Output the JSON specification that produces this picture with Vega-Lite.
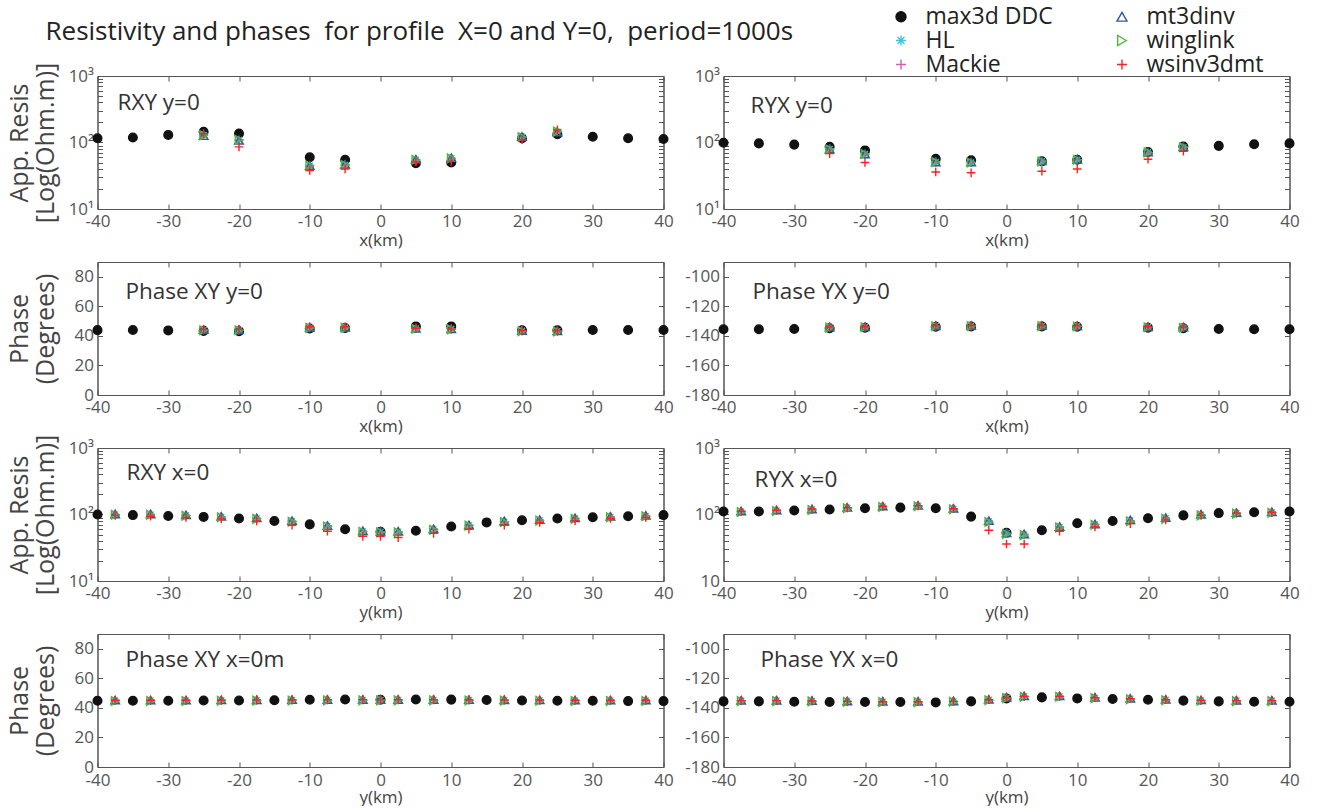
{
"$schema":"https://vega.github.io/schema/vega-lite/v6.json",
"background":"white",
"padding":{"left":6.5,"top":5,"right":0,"bottom":0},
"title":{"text":"Resistivity and phases\u00a0 for profile\u00a0 X=0 and Y=0,\u00a0 period=1000s","anchor":"start","frame":"group","dx":-52,"offset":-61,"baseline":"alphabetic","fontSize":26,"fontWeight":"normal","color":"#222","font":"Open Sans"},
"config":{
 "font":"Open Sans",
 "view":{"stroke":"#555","strokeWidth":1},
 "axis":{"grid":false,"domainColor":"#555","domainWidth":1,"tickColor":"#555","tickWidth":1,"tickSize":-5,"labelFont":"Open Sans","labelFontSize":17,"labelColor":"#555","labelFlush":false,"labelOverlap":false,"titleFont":"Open Sans","titleFontSize":17,"titleFontWeight":"normal","titleColor":"#444"},
 "axisX":{"labelPadding":9.5,"titlePadding":2.5},
 "axisY":{"labelPadding":9,"titlePadding":4.5,"minExtent":35,"maxExtent":35,"titleFontSize":25,"titleLineHeight":26},
 "title":{"font":"Open Sans","fontWeight":"normal","color":"#333"}
},
"datasets":{
"rxy_y":[
{"method":"max3d DDC","km":-40,"value":116},{"method":"max3d DDC","km":-35,"value":119},{"method":"max3d DDC","km":-30,"value":130},{"method":"max3d DDC","km":-25,"value":145},{"method":"max3d DDC","km":-20,"value":136},{"method":"max3d DDC","km":-10,"value":60},{"method":"max3d DDC","km":-5,"value":55},{"method":"max3d DDC","km":5,"value":49},{"method":"max3d DDC","km":10,"value":50},{"method":"max3d DDC","km":20,"value":116},{"method":"max3d DDC","km":25,"value":133},{"method":"max3d DDC","km":30,"value":122},{"method":"max3d DDC","km":35,"value":116},{"method":"max3d DDC","km":40,"value":113},
{"method":"HL","km":-25,"value":129},{"method":"HL","km":-20,"value":109},{"method":"HL","km":-10,"value":45},{"method":"HL","km":-5,"value":46},{"method":"HL","km":5,"value":55},{"method":"HL","km":10,"value":58},{"method":"HL","km":20,"value":121},{"method":"HL","km":25,"value":146},
{"method":"Mackie","km":-25,"value":128},{"method":"Mackie","km":-20,"value":108},{"method":"Mackie","km":-10,"value":44},{"method":"Mackie","km":-5,"value":46},{"method":"Mackie","km":5,"value":54},{"method":"Mackie","km":10,"value":57},{"method":"Mackie","km":20,"value":120},{"method":"Mackie","km":25,"value":145},
{"method":"mt3dinv","km":-25,"value":127},{"method":"mt3dinv","km":-20,"value":108},{"method":"mt3dinv","km":-10,"value":45},{"method":"mt3dinv","km":-5,"value":47},{"method":"mt3dinv","km":5,"value":56},{"method":"mt3dinv","km":10,"value":59},{"method":"mt3dinv","km":20,"value":123},{"method":"mt3dinv","km":25,"value":144},
{"method":"winglink","km":-25,"value":129},{"method":"winglink","km":-20,"value":110},{"method":"winglink","km":-10,"value":45},{"method":"winglink","km":-5,"value":46},{"method":"winglink","km":5,"value":55},{"method":"winglink","km":10,"value":58},{"method":"winglink","km":20,"value":121},{"method":"winglink","km":25,"value":146},
{"method":"wsinv3dmt","km":-25,"value":136},{"method":"wsinv3dmt","km":-20,"value":86},{"method":"wsinv3dmt","km":-10,"value":38},{"method":"wsinv3dmt","km":-5,"value":40},{"method":"wsinv3dmt","km":5,"value":51},{"method":"wsinv3dmt","km":10,"value":52},{"method":"wsinv3dmt","km":20,"value":110},{"method":"wsinv3dmt","km":25,"value":155}
],
"ryx_y":[
{"method":"max3d DDC","km":-40,"value":99},{"method":"max3d DDC","km":-35,"value":97},{"method":"max3d DDC","km":-30,"value":93},{"method":"max3d DDC","km":-25,"value":86},{"method":"max3d DDC","km":-20,"value":76},{"method":"max3d DDC","km":-10,"value":57},{"method":"max3d DDC","km":-5,"value":54},{"method":"max3d DDC","km":5,"value":52},{"method":"max3d DDC","km":10,"value":55},{"method":"max3d DDC","km":20,"value":72},{"method":"max3d DDC","km":25,"value":87},{"method":"max3d DDC","km":30,"value":89},{"method":"max3d DDC","km":35,"value":94},{"method":"max3d DDC","km":40,"value":97},
{"method":"HL","km":-25,"value":80},{"method":"HL","km":-20,"value":67},{"method":"HL","km":-10,"value":51},{"method":"HL","km":-5,"value":50},{"method":"HL","km":5,"value":52},{"method":"HL","km":10,"value":55},{"method":"HL","km":20,"value":71},{"method":"HL","km":25,"value":85},
{"method":"Mackie","km":-25,"value":79},{"method":"Mackie","km":-20,"value":66},{"method":"Mackie","km":-10,"value":50},{"method":"Mackie","km":-5,"value":50},{"method":"Mackie","km":5,"value":52},{"method":"Mackie","km":10,"value":55},{"method":"Mackie","km":20,"value":70},{"method":"Mackie","km":25,"value":84},
{"method":"mt3dinv","km":-25,"value":80},{"method":"mt3dinv","km":-20,"value":67},{"method":"mt3dinv","km":-10,"value":51},{"method":"mt3dinv","km":-5,"value":51},{"method":"mt3dinv","km":5,"value":53},{"method":"mt3dinv","km":10,"value":56},{"method":"mt3dinv","km":20,"value":72},{"method":"mt3dinv","km":25,"value":86},
{"method":"winglink","km":-25,"value":79},{"method":"winglink","km":-20,"value":67},{"method":"winglink","km":-10,"value":51},{"method":"winglink","km":-5,"value":50},{"method":"winglink","km":5,"value":52},{"method":"winglink","km":10,"value":55},{"method":"winglink","km":20,"value":71},{"method":"winglink","km":25,"value":85},
{"method":"wsinv3dmt","km":-25,"value":68},{"method":"wsinv3dmt","km":-20,"value":50},{"method":"wsinv3dmt","km":-10,"value":36},{"method":"wsinv3dmt","km":-5,"value":35},{"method":"wsinv3dmt","km":5,"value":37},{"method":"wsinv3dmt","km":10,"value":40},{"method":"wsinv3dmt","km":20,"value":56},{"method":"wsinv3dmt","km":25,"value":74}
],
"pxy_y":[
{"method":"max3d DDC","km":-40,"value":43.9},{"method":"max3d DDC","km":-35,"value":44},{"method":"max3d DDC","km":-30,"value":43.7},{"method":"max3d DDC","km":-25,"value":43.4},{"method":"max3d DDC","km":-20,"value":43.2},{"method":"max3d DDC","km":-10,"value":45},{"method":"max3d DDC","km":-5,"value":45.3},{"method":"max3d DDC","km":5,"value":46.4},{"method":"max3d DDC","km":10,"value":46.4},{"method":"max3d DDC","km":20,"value":43.8},{"method":"max3d DDC","km":25,"value":43.8},{"method":"max3d DDC","km":30,"value":44},{"method":"max3d DDC","km":35,"value":44},{"method":"max3d DDC","km":40,"value":44},
{"method":"HL","km":-25,"value":44},{"method":"HL","km":-20,"value":44},{"method":"HL","km":-10,"value":45.6},{"method":"HL","km":-5,"value":45.6},{"method":"HL","km":5,"value":45},{"method":"HL","km":10,"value":44.6},{"method":"HL","km":20,"value":43.4},{"method":"HL","km":25,"value":43.2},
{"method":"Mackie","km":-25,"value":44.1},{"method":"Mackie","km":-20,"value":44.1},{"method":"Mackie","km":-10,"value":45.5},{"method":"Mackie","km":-5,"value":45.6},{"method":"Mackie","km":5,"value":45.1},{"method":"Mackie","km":10,"value":44.7},{"method":"Mackie","km":20,"value":43.4},{"method":"Mackie","km":25,"value":43.3},
{"method":"mt3dinv","km":-25,"value":44.3},{"method":"mt3dinv","km":-20,"value":44.2},{"method":"mt3dinv","km":-10,"value":45.8},{"method":"mt3dinv","km":-5,"value":45.8},{"method":"mt3dinv","km":5,"value":45.2},{"method":"mt3dinv","km":10,"value":44.8},{"method":"mt3dinv","km":20,"value":43.6},{"method":"mt3dinv","km":25,"value":43.4},
{"method":"winglink","km":-25,"value":43.8},{"method":"winglink","km":-20,"value":43.8},{"method":"winglink","km":-10,"value":45.4},{"method":"winglink","km":-5,"value":45.4},{"method":"winglink","km":5,"value":44.8},{"method":"winglink","km":10,"value":44.4},{"method":"winglink","km":20,"value":43.2},{"method":"winglink","km":25,"value":43},
{"method":"wsinv3dmt","km":-25,"value":44.4},{"method":"wsinv3dmt","km":-20,"value":44.4},{"method":"wsinv3dmt","km":-10,"value":46.2},{"method":"wsinv3dmt","km":-5,"value":46.2},{"method":"wsinv3dmt","km":5,"value":45.2},{"method":"wsinv3dmt","km":10,"value":44.6},{"method":"wsinv3dmt","km":20,"value":43.6},{"method":"wsinv3dmt","km":25,"value":43.4}
],
"pyx_y":[
{"method":"max3d DDC","km":-40,"value":-135.5},{"method":"max3d DDC","km":-35,"value":-135.5},{"method":"max3d DDC","km":-30,"value":-135.3},{"method":"max3d DDC","km":-25,"value":-134.8},{"method":"max3d DDC","km":-20,"value":-134.5},{"method":"max3d DDC","km":-10,"value":-133.8},{"method":"max3d DDC","km":-5,"value":-133.6},{"method":"max3d DDC","km":5,"value":-133.6},{"method":"max3d DDC","km":10,"value":-133.8},{"method":"max3d DDC","km":20,"value":-134.5},{"method":"max3d DDC","km":25,"value":-134.8},{"method":"max3d DDC","km":30,"value":-135.3},{"method":"max3d DDC","km":35,"value":-135.5},{"method":"max3d DDC","km":40,"value":-135.5},
{"method":"HL","km":-25,"value":-134.2},{"method":"HL","km":-20,"value":-134},{"method":"HL","km":-10,"value":-133.3},{"method":"HL","km":-5,"value":-133.2},{"method":"HL","km":5,"value":-133.2},{"method":"HL","km":10,"value":-133.4},{"method":"HL","km":20,"value":-134},{"method":"HL","km":25,"value":-134.3},
{"method":"Mackie","km":-25,"value":-134.2},{"method":"Mackie","km":-20,"value":-134},{"method":"Mackie","km":-10,"value":-133.3},{"method":"Mackie","km":-5,"value":-133.2},{"method":"Mackie","km":5,"value":-133.2},{"method":"Mackie","km":10,"value":-133.4},{"method":"Mackie","km":20,"value":-134},{"method":"Mackie","km":25,"value":-134.3},
{"method":"mt3dinv","km":-25,"value":-134},{"method":"mt3dinv","km":-20,"value":-133.8},{"method":"mt3dinv","km":-10,"value":-133.1},{"method":"mt3dinv","km":-5,"value":-133},{"method":"mt3dinv","km":5,"value":-133},{"method":"mt3dinv","km":10,"value":-133.2},{"method":"mt3dinv","km":20,"value":-133.8},{"method":"mt3dinv","km":25,"value":-134.1},
{"method":"winglink","km":-25,"value":-134.4},{"method":"winglink","km":-20,"value":-134.2},{"method":"winglink","km":-10,"value":-133.5},{"method":"winglink","km":-5,"value":-133.4},{"method":"winglink","km":5,"value":-133.4},{"method":"winglink","km":10,"value":-133.6},{"method":"winglink","km":20,"value":-134.2},{"method":"winglink","km":25,"value":-134.5},
{"method":"wsinv3dmt","km":-25,"value":-134},{"method":"wsinv3dmt","km":-20,"value":-133.8},{"method":"wsinv3dmt","km":-10,"value":-133},{"method":"wsinv3dmt","km":-5,"value":-133},{"method":"wsinv3dmt","km":5,"value":-133},{"method":"wsinv3dmt","km":10,"value":-133.2},{"method":"wsinv3dmt","km":20,"value":-133.8},{"method":"wsinv3dmt","km":25,"value":-134.1}
],
"rxy_x":[
{"method":"max3d DDC","km":-40,"value":100},{"method":"max3d DDC","km":-35,"value":98},{"method":"max3d DDC","km":-30,"value":95},{"method":"max3d DDC","km":-25,"value":92},{"method":"max3d DDC","km":-20,"value":87},{"method":"max3d DDC","km":-15,"value":80},{"method":"max3d DDC","km":-10,"value":71},{"method":"max3d DDC","km":-5,"value":60},{"method":"max3d DDC","km":0,"value":55},{"method":"max3d DDC","km":5,"value":57},{"method":"max3d DDC","km":10,"value":66},{"method":"max3d DDC","km":15,"value":76},{"method":"max3d DDC","km":20,"value":82},{"method":"max3d DDC","km":25,"value":87},{"method":"max3d DDC","km":30,"value":91},{"method":"max3d DDC","km":35,"value":94},{"method":"max3d DDC","km":40,"value":98},
{"method":"HL","km":-37.5,"value":100},{"method":"HL","km":-32.5,"value":100},{"method":"HL","km":-27.5,"value":97},{"method":"HL","km":-22.5,"value":92},{"method":"HL","km":-17.5,"value":87},{"method":"HL","km":-12.5,"value":79},{"method":"HL","km":-7.5,"value":67},{"method":"HL","km":-2.5,"value":56},{"method":"HL","km":0,"value":55},{"method":"HL","km":2.5,"value":55},{"method":"HL","km":7.5,"value":60},{"method":"HL","km":12.5,"value":69},{"method":"HL","km":17.5,"value":78},{"method":"HL","km":22.5,"value":82},{"method":"HL","km":27.5,"value":87},{"method":"HL","km":32.5,"value":92},{"method":"HL","km":37.5,"value":95},
{"method":"Mackie","km":-37.5,"value":100},{"method":"Mackie","km":-32.5,"value":100},{"method":"Mackie","km":-27.5,"value":97},{"method":"Mackie","km":-22.5,"value":92},{"method":"Mackie","km":-17.5,"value":87},{"method":"Mackie","km":-12.5,"value":79},{"method":"Mackie","km":-7.5,"value":67},{"method":"Mackie","km":-2.5,"value":56},{"method":"Mackie","km":0,"value":55},{"method":"Mackie","km":2.5,"value":55},{"method":"Mackie","km":7.5,"value":60},{"method":"Mackie","km":12.5,"value":69},{"method":"Mackie","km":17.5,"value":78},{"method":"Mackie","km":22.5,"value":82},{"method":"Mackie","km":27.5,"value":87},{"method":"Mackie","km":32.5,"value":92},{"method":"Mackie","km":37.5,"value":95},
{"method":"mt3dinv","km":-37.5,"value":102},{"method":"mt3dinv","km":-32.5,"value":102},{"method":"mt3dinv","km":-27.5,"value":99},{"method":"mt3dinv","km":-22.5,"value":94},{"method":"mt3dinv","km":-17.5,"value":89},{"method":"mt3dinv","km":-12.5,"value":81},{"method":"mt3dinv","km":-7.5,"value":68},{"method":"mt3dinv","km":-2.5,"value":57},{"method":"mt3dinv","km":0,"value":56},{"method":"mt3dinv","km":2.5,"value":56},{"method":"mt3dinv","km":7.5,"value":61},{"method":"mt3dinv","km":12.5,"value":70},{"method":"mt3dinv","km":17.5,"value":80},{"method":"mt3dinv","km":22.5,"value":84},{"method":"mt3dinv","km":27.5,"value":89},{"method":"mt3dinv","km":32.5,"value":94},{"method":"mt3dinv","km":37.5,"value":97},
{"method":"winglink","km":-37.5,"value":99},{"method":"winglink","km":-32.5,"value":99},{"method":"winglink","km":-27.5,"value":96},{"method":"winglink","km":-22.5,"value":91},{"method":"winglink","km":-17.5,"value":86},{"method":"winglink","km":-12.5,"value":78},{"method":"winglink","km":-7.5,"value":66},{"method":"winglink","km":-2.5,"value":55},{"method":"winglink","km":0,"value":54},{"method":"winglink","km":2.5,"value":54},{"method":"winglink","km":7.5,"value":59},{"method":"winglink","km":12.5,"value":68},{"method":"winglink","km":17.5,"value":77},{"method":"winglink","km":22.5,"value":81},{"method":"winglink","km":27.5,"value":86},{"method":"winglink","km":32.5,"value":91},{"method":"winglink","km":37.5,"value":94},
{"method":"wsinv3dmt","km":-37.5,"value":97},{"method":"wsinv3dmt","km":-32.5,"value":94},{"method":"wsinv3dmt","km":-27.5,"value":90},{"method":"wsinv3dmt","km":-22.5,"value":86},{"method":"wsinv3dmt","km":-17.5,"value":80},{"method":"wsinv3dmt","km":-12.5,"value":69},{"method":"wsinv3dmt","km":-7.5,"value":56},{"method":"wsinv3dmt","km":-2.5,"value":47},{"method":"wsinv3dmt","km":0,"value":47},{"method":"wsinv3dmt","km":2.5,"value":45},{"method":"wsinv3dmt","km":7.5,"value":52},{"method":"wsinv3dmt","km":12.5,"value":60},{"method":"wsinv3dmt","km":17.5,"value":69},{"method":"wsinv3dmt","km":22.5,"value":76},{"method":"wsinv3dmt","km":27.5,"value":81},{"method":"wsinv3dmt","km":32.5,"value":87},{"method":"wsinv3dmt","km":37.5,"value":90}
],
"ryx_x":[
{"method":"max3d DDC","km":-40,"value":111},{"method":"max3d DDC","km":-35,"value":111},{"method":"max3d DDC","km":-30,"value":115},{"method":"max3d DDC","km":-25,"value":119},{"method":"max3d DDC","km":-20,"value":124},{"method":"max3d DDC","km":-15,"value":127},{"method":"max3d DDC","km":-10,"value":124},{"method":"max3d DDC","km":-5,"value":93},{"method":"max3d DDC","km":0,"value":53},{"method":"max3d DDC","km":5,"value":58},{"method":"max3d DDC","km":10,"value":74},{"method":"max3d DDC","km":15,"value":80},{"method":"max3d DDC","km":20,"value":88},{"method":"max3d DDC","km":25,"value":97},{"method":"max3d DDC","km":30,"value":105},{"method":"max3d DDC","km":35,"value":108},{"method":"max3d DDC","km":40,"value":111},
{"method":"HL","km":-37.5,"value":111},{"method":"HL","km":-32.5,"value":115},{"method":"HL","km":-27.5,"value":119},{"method":"HL","km":-22.5,"value":126},{"method":"HL","km":-17.5,"value":132},{"method":"HL","km":-12.5,"value":135},{"method":"HL","km":-7.5,"value":122},{"method":"HL","km":-2.5,"value":79},{"method":"HL","km":0,"value":52},{"method":"HL","km":2.5,"value":50},{"method":"HL","km":7.5,"value":65},{"method":"HL","km":12.5,"value":71},{"method":"HL","km":17.5,"value":81},{"method":"HL","km":22.5,"value":88},{"method":"HL","km":27.5,"value":99},{"method":"HL","km":32.5,"value":105},{"method":"HL","km":37.5,"value":108},
{"method":"Mackie","km":-37.5,"value":111},{"method":"Mackie","km":-32.5,"value":115},{"method":"Mackie","km":-27.5,"value":119},{"method":"Mackie","km":-22.5,"value":126},{"method":"Mackie","km":-17.5,"value":132},{"method":"Mackie","km":-12.5,"value":135},{"method":"Mackie","km":-7.5,"value":122},{"method":"Mackie","km":-2.5,"value":79},{"method":"Mackie","km":0,"value":52},{"method":"Mackie","km":2.5,"value":50},{"method":"Mackie","km":7.5,"value":65},{"method":"Mackie","km":12.5,"value":71},{"method":"Mackie","km":17.5,"value":81},{"method":"Mackie","km":22.5,"value":88},{"method":"Mackie","km":27.5,"value":99},{"method":"Mackie","km":32.5,"value":105},{"method":"Mackie","km":37.5,"value":108},
{"method":"mt3dinv","km":-37.5,"value":113},{"method":"mt3dinv","km":-32.5,"value":117},{"method":"mt3dinv","km":-27.5,"value":121},{"method":"mt3dinv","km":-22.5,"value":128},{"method":"mt3dinv","km":-17.5,"value":134},{"method":"mt3dinv","km":-12.5,"value":137},{"method":"mt3dinv","km":-7.5,"value":124},{"method":"mt3dinv","km":-2.5,"value":81},{"method":"mt3dinv","km":0,"value":53},{"method":"mt3dinv","km":2.5,"value":51},{"method":"mt3dinv","km":7.5,"value":66},{"method":"mt3dinv","km":12.5,"value":72},{"method":"mt3dinv","km":17.5,"value":83},{"method":"mt3dinv","km":22.5,"value":90},{"method":"mt3dinv","km":27.5,"value":101},{"method":"mt3dinv","km":32.5,"value":107},{"method":"mt3dinv","km":37.5,"value":110},
{"method":"winglink","km":-37.5,"value":109},{"method":"winglink","km":-32.5,"value":113},{"method":"winglink","km":-27.5,"value":117},{"method":"winglink","km":-22.5,"value":124},{"method":"winglink","km":-17.5,"value":130},{"method":"winglink","km":-12.5,"value":133},{"method":"winglink","km":-7.5,"value":120},{"method":"winglink","km":-2.5,"value":77},{"method":"winglink","km":0,"value":51},{"method":"winglink","km":2.5,"value":49},{"method":"winglink","km":7.5,"value":64},{"method":"winglink","km":12.5,"value":70},{"method":"winglink","km":17.5,"value":79},{"method":"winglink","km":22.5,"value":86},{"method":"winglink","km":27.5,"value":97},{"method":"winglink","km":32.5,"value":103},{"method":"winglink","km":37.5,"value":106},
{"method":"wsinv3dmt","km":-37.5,"value":112},{"method":"wsinv3dmt","km":-32.5,"value":116},{"method":"wsinv3dmt","km":-27.5,"value":121},{"method":"wsinv3dmt","km":-22.5,"value":127},{"method":"wsinv3dmt","km":-17.5,"value":133},{"method":"wsinv3dmt","km":-12.5,"value":136},{"method":"wsinv3dmt","km":-7.5,"value":122},{"method":"wsinv3dmt","km":-2.5,"value":58},{"method":"wsinv3dmt","km":0,"value":36},{"method":"wsinv3dmt","km":2.5,"value":36},{"method":"wsinv3dmt","km":7.5,"value":56},{"method":"wsinv3dmt","km":12.5,"value":65},{"method":"wsinv3dmt","km":17.5,"value":73},{"method":"wsinv3dmt","km":22.5,"value":83},{"method":"wsinv3dmt","km":27.5,"value":97},{"method":"wsinv3dmt","km":32.5,"value":105},{"method":"wsinv3dmt","km":37.5,"value":107}
],
"pxy_x":[
{"method":"max3d DDC","km":-40,"value":44.8},{"method":"max3d DDC","km":-35,"value":44.8},{"method":"max3d DDC","km":-30,"value":44.8},{"method":"max3d DDC","km":-25,"value":45},{"method":"max3d DDC","km":-20,"value":45},{"method":"max3d DDC","km":-15,"value":45.2},{"method":"max3d DDC","km":-10,"value":45.5},{"method":"max3d DDC","km":-5,"value":45.7},{"method":"max3d DDC","km":0,"value":45.5},{"method":"max3d DDC","km":5,"value":45.7},{"method":"max3d DDC","km":10,"value":45.6},{"method":"max3d DDC","km":15,"value":45.3},{"method":"max3d DDC","km":20,"value":45},{"method":"max3d DDC","km":25,"value":44.8},{"method":"max3d DDC","km":30,"value":44.8},{"method":"max3d DDC","km":35,"value":44.6},{"method":"max3d DDC","km":40,"value":44.6},
{"method":"HL","km":-37.5,"value":45},{"method":"HL","km":-32.5,"value":45},{"method":"HL","km":-27.5,"value":45},{"method":"HL","km":-22.5,"value":45.1},{"method":"HL","km":-17.5,"value":45.2},{"method":"HL","km":-12.5,"value":45.3},{"method":"HL","km":-7.5,"value":45.4},{"method":"HL","km":-2.5,"value":45.4},{"method":"HL","km":0,"value":45.4},{"method":"HL","km":2.5,"value":45.4},{"method":"HL","km":7.5,"value":45.4},{"method":"HL","km":12.5,"value":45.3},{"method":"HL","km":17.5,"value":45.2},{"method":"HL","km":22.5,"value":45.1},{"method":"HL","km":27.5,"value":45},{"method":"HL","km":32.5,"value":45},{"method":"HL","km":37.5,"value":45},
{"method":"Mackie","km":-37.5,"value":45},{"method":"Mackie","km":-32.5,"value":45},{"method":"Mackie","km":-27.5,"value":45},{"method":"Mackie","km":-22.5,"value":45.1},{"method":"Mackie","km":-17.5,"value":45.2},{"method":"Mackie","km":-12.5,"value":45.3},{"method":"Mackie","km":-7.5,"value":45.4},{"method":"Mackie","km":-2.5,"value":45.4},{"method":"Mackie","km":0,"value":45.4},{"method":"Mackie","km":2.5,"value":45.4},{"method":"Mackie","km":7.5,"value":45.4},{"method":"Mackie","km":12.5,"value":45.3},{"method":"Mackie","km":17.5,"value":45.2},{"method":"Mackie","km":22.5,"value":45.1},{"method":"Mackie","km":27.5,"value":45},{"method":"Mackie","km":32.5,"value":45},{"method":"Mackie","km":37.5,"value":45},
{"method":"mt3dinv","km":-37.5,"value":45.3},{"method":"mt3dinv","km":-32.5,"value":45.3},{"method":"mt3dinv","km":-27.5,"value":45.3},{"method":"mt3dinv","km":-22.5,"value":45.4},{"method":"mt3dinv","km":-17.5,"value":45.5},{"method":"mt3dinv","km":-12.5,"value":45.6},{"method":"mt3dinv","km":-7.5,"value":45.7},{"method":"mt3dinv","km":-2.5,"value":45.7},{"method":"mt3dinv","km":0,"value":45.7},{"method":"mt3dinv","km":2.5,"value":45.7},{"method":"mt3dinv","km":7.5,"value":45.7},{"method":"mt3dinv","km":12.5,"value":45.6},{"method":"mt3dinv","km":17.5,"value":45.5},{"method":"mt3dinv","km":22.5,"value":45.4},{"method":"mt3dinv","km":27.5,"value":45.3},{"method":"mt3dinv","km":32.5,"value":45.3},{"method":"mt3dinv","km":37.5,"value":45.3},
{"method":"winglink","km":-37.5,"value":44.7},{"method":"winglink","km":-32.5,"value":44.7},{"method":"winglink","km":-27.5,"value":44.7},{"method":"winglink","km":-22.5,"value":44.8},{"method":"winglink","km":-17.5,"value":44.9},{"method":"winglink","km":-12.5,"value":45},{"method":"winglink","km":-7.5,"value":45.1},{"method":"winglink","km":-2.5,"value":45.1},{"method":"winglink","km":0,"value":45.1},{"method":"winglink","km":2.5,"value":45.1},{"method":"winglink","km":7.5,"value":45.1},{"method":"winglink","km":12.5,"value":45},{"method":"winglink","km":17.5,"value":44.9},{"method":"winglink","km":22.5,"value":44.8},{"method":"winglink","km":27.5,"value":44.7},{"method":"winglink","km":32.5,"value":44.7},{"method":"winglink","km":37.5,"value":44.7},
{"method":"wsinv3dmt","km":-37.5,"value":45.2},{"method":"wsinv3dmt","km":-32.5,"value":45.2},{"method":"wsinv3dmt","km":-27.5,"value":45.2},{"method":"wsinv3dmt","km":-22.5,"value":45.3},{"method":"wsinv3dmt","km":-17.5,"value":45.4},{"method":"wsinv3dmt","km":-12.5,"value":45.5},{"method":"wsinv3dmt","km":-7.5,"value":45.6},{"method":"wsinv3dmt","km":-2.5,"value":45.6},{"method":"wsinv3dmt","km":0,"value":45.6},{"method":"wsinv3dmt","km":2.5,"value":45.6},{"method":"wsinv3dmt","km":7.5,"value":45.6},{"method":"wsinv3dmt","km":12.5,"value":45.5},{"method":"wsinv3dmt","km":17.5,"value":45.4},{"method":"wsinv3dmt","km":22.5,"value":45.3},{"method":"wsinv3dmt","km":27.5,"value":45.2},{"method":"wsinv3dmt","km":32.5,"value":45.2},{"method":"wsinv3dmt","km":37.5,"value":45.2}
],
"pyx_x":[
{"method":"max3d DDC","km":-40,"value":-135.6},{"method":"max3d DDC","km":-35,"value":-135.6},{"method":"max3d DDC","km":-30,"value":-135.8},{"method":"max3d DDC","km":-25,"value":-136},{"method":"max3d DDC","km":-20,"value":-136},{"method":"max3d DDC","km":-15,"value":-136},{"method":"max3d DDC","km":-10,"value":-136.3},{"method":"max3d DDC","km":-5,"value":-135.6},{"method":"max3d DDC","km":0,"value":-133.6},{"method":"max3d DDC","km":5,"value":-132.9},{"method":"max3d DDC","km":10,"value":-133.6},{"method":"max3d DDC","km":15,"value":-134},{"method":"max3d DDC","km":20,"value":-134.5},{"method":"max3d DDC","km":25,"value":-135.1},{"method":"max3d DDC","km":30,"value":-135.6},{"method":"max3d DDC","km":35,"value":-135.8},{"method":"max3d DDC","km":40,"value":-135.8},
{"method":"HL","km":-37.5,"value":-135.1},{"method":"HL","km":-32.5,"value":-135.1},{"method":"HL","km":-27.5,"value":-135.3},{"method":"HL","km":-22.5,"value":-135.6},{"method":"HL","km":-17.5,"value":-135.8},{"method":"HL","km":-12.5,"value":-135.8},{"method":"HL","km":-7.5,"value":-135.6},{"method":"HL","km":-2.5,"value":-134.5},{"method":"HL","km":0,"value":-133.1},{"method":"HL","km":2.5,"value":-132.2},{"method":"HL","km":7.5,"value":-132.2},{"method":"HL","km":12.5,"value":-133.1},{"method":"HL","km":17.5,"value":-133.8},{"method":"HL","km":22.5,"value":-134.5},{"method":"HL","km":27.5,"value":-134.9},{"method":"HL","km":32.5,"value":-135.1},{"method":"HL","km":37.5,"value":-135.1},
{"method":"Mackie","km":-37.5,"value":-135.1},{"method":"Mackie","km":-32.5,"value":-135.1},{"method":"Mackie","km":-27.5,"value":-135.3},{"method":"Mackie","km":-22.5,"value":-135.6},{"method":"Mackie","km":-17.5,"value":-135.8},{"method":"Mackie","km":-12.5,"value":-135.8},{"method":"Mackie","km":-7.5,"value":-135.6},{"method":"Mackie","km":-2.5,"value":-134.5},{"method":"Mackie","km":0,"value":-133.1},{"method":"Mackie","km":2.5,"value":-132.2},{"method":"Mackie","km":7.5,"value":-132.2},{"method":"Mackie","km":12.5,"value":-133.1},{"method":"Mackie","km":17.5,"value":-133.8},{"method":"Mackie","km":22.5,"value":-134.5},{"method":"Mackie","km":27.5,"value":-134.9},{"method":"Mackie","km":32.5,"value":-135.1},{"method":"Mackie","km":37.5,"value":-135.1},
{"method":"mt3dinv","km":-37.5,"value":-134.8},{"method":"mt3dinv","km":-32.5,"value":-134.8},{"method":"mt3dinv","km":-27.5,"value":-135},{"method":"mt3dinv","km":-22.5,"value":-135.3},{"method":"mt3dinv","km":-17.5,"value":-135.5},{"method":"mt3dinv","km":-12.5,"value":-135.5},{"method":"mt3dinv","km":-7.5,"value":-135.3},{"method":"mt3dinv","km":-2.5,"value":-134.2},{"method":"mt3dinv","km":0,"value":-132.8},{"method":"mt3dinv","km":2.5,"value":-131.9},{"method":"mt3dinv","km":7.5,"value":-131.9},{"method":"mt3dinv","km":12.5,"value":-132.8},{"method":"mt3dinv","km":17.5,"value":-133.5},{"method":"mt3dinv","km":22.5,"value":-134.2},{"method":"mt3dinv","km":27.5,"value":-134.6},{"method":"mt3dinv","km":32.5,"value":-134.8},{"method":"mt3dinv","km":37.5,"value":-134.8},
{"method":"winglink","km":-37.5,"value":-135.4},{"method":"winglink","km":-32.5,"value":-135.4},{"method":"winglink","km":-27.5,"value":-135.6},{"method":"winglink","km":-22.5,"value":-135.9},{"method":"winglink","km":-17.5,"value":-136.1},{"method":"winglink","km":-12.5,"value":-136.1},{"method":"winglink","km":-7.5,"value":-135.9},{"method":"winglink","km":-2.5,"value":-134.8},{"method":"winglink","km":0,"value":-133.4},{"method":"winglink","km":2.5,"value":-132.5},{"method":"winglink","km":7.5,"value":-132.5},{"method":"winglink","km":12.5,"value":-133.4},{"method":"winglink","km":17.5,"value":-134.1},{"method":"winglink","km":22.5,"value":-134.8},{"method":"winglink","km":27.5,"value":-135.2},{"method":"winglink","km":32.5,"value":-135.4},{"method":"winglink","km":37.5,"value":-135.4},
{"method":"wsinv3dmt","km":-37.5,"value":-135.1},{"method":"wsinv3dmt","km":-32.5,"value":-135.1},{"method":"wsinv3dmt","km":-27.5,"value":-135.3},{"method":"wsinv3dmt","km":-22.5,"value":-135.6},{"method":"wsinv3dmt","km":-17.5,"value":-135.8},{"method":"wsinv3dmt","km":-12.5,"value":-135.8},{"method":"wsinv3dmt","km":-7.5,"value":-135.6},{"method":"wsinv3dmt","km":-2.5,"value":-134.5},{"method":"wsinv3dmt","km":0,"value":-133.1},{"method":"wsinv3dmt","km":2.5,"value":-132.2},{"method":"wsinv3dmt","km":7.5,"value":-132.2},{"method":"wsinv3dmt","km":12.5,"value":-133.1},{"method":"wsinv3dmt","km":17.5,"value":-133.8},{"method":"wsinv3dmt","km":22.5,"value":-134.5},{"method":"wsinv3dmt","km":27.5,"value":-134.9},{"method":"wsinv3dmt","km":32.5,"value":-135.1},{"method":"wsinv3dmt","km":37.5,"value":-135.1}
]
},
"columns":2,
"bounds":"flush",
"spacing":{"row":53,"column":60},
"concat":[
{"width":566,"height":133,"data":{"name":"rxy_y"},
 "title":{"text":"RXY y=0","anchor":"start","frame":"group","dx":20,"offset":-70,"baseline":"alphabetic","fontSize":22.5,"fontWeight":"normal","color":"#333"},
 "layer":[
  {"mark":{"type":"point","size":75,"strokeWidth":1.4,"opacity":1},
   "encoding":{
    "x":{"field":"km","type":"quantitative","scale":{"domain":[-40,40],"nice":false,"zero":false},"axis":{"orient":"bottom","values":[-40,-30,-20,-10,0,10,20,30,40],"labelExpr":"''+datum.value","title":"x(km)"}},
    "y":{"field":"value","type":"quantitative","scale":{"type":"log","domain":[10,1000],"nice":false},"axis":{"orient":"left","values":[10,20,30,40,50,60,70,80,90,100,200,300,400,500,600,700,800,900,1000],"labelExpr":"datum.value==1000?'10³':datum.value==100?'10²':datum.value==10?'10¹':''","title":["App. Resis","[Log(Ohm.m)]"]}},
    "shape":{"field":"method","type":"nominal","scale":{"domain":["max3d DDC","HL","Mackie","mt3dinv","winglink","wsinv3dmt"],"range":["circle","M-1,0L1,0M0,-1L0,1M-0.7,-0.7L0.7,0.7M-0.7,0.7L0.7,-0.7","M-1,0L1,0M0,-1L0,1","triangle-up","triangle-right","M-1,0L1,0M0,-1L0,1"]},"legend":{"title":null,"orient":"none","legendX":792,"legendY":-71,"direction":"vertical","columns":2,"columnPadding":57,"rowPadding":-3.5,"labelFont":"Open Sans","labelFontSize":23,"labelColor":"#222","labelOffset":13,"symbolSize":100,"symbolStrokeWidth":1.4}},
    "fill":{"field":"method","type":"nominal","scale":{"domain":["max3d DDC","HL","Mackie","mt3dinv","winglink","wsinv3dmt"],"range":["#111111","transparent","transparent","transparent","transparent","transparent"]},"legend":{"title":null,"orient":"none","legendX":792,"legendY":-71,"direction":"vertical","columns":2,"columnPadding":57,"rowPadding":-3.5,"labelFont":"Open Sans","labelFontSize":23,"labelColor":"#222","labelOffset":13,"symbolSize":100,"symbolStrokeWidth":1.4}},
    "stroke":{"field":"method","type":"nominal","scale":{"domain":["max3d DDC","HL","Mackie","mt3dinv","winglink","wsinv3dmt"],"range":["#111111","#3fc3e0","#c860b8","#3355aa","#4cb83a","#ff2020"]},"legend":{"title":null,"orient":"none","legendX":792,"legendY":-71,"direction":"vertical","columns":2,"columnPadding":57,"rowPadding":-3.5,"labelFont":"Open Sans","labelFontSize":23,"labelColor":"#222","labelOffset":13,"symbolSize":100,"symbolStrokeWidth":1.4}}
   }},
  {"mark":{"type":"point","opacity":0},
   "encoding":{
    "x":{"field":"km","type":"quantitative","scale":{"domain":[-40,40],"nice":false,"zero":false},"axis":{"orient":"top","values":[-40,-30,-20,-10,0,10,20,30,40],"labels":false,"title":null}},
    "y":{"field":"value","type":"quantitative","scale":{"type":"log","domain":[10,1000],"nice":false},"axis":{"orient":"right","values":[10,20,30,40,50,60,70,80,90,100,200,300,400,500,600,700,800,900,1000],"labels":false,"title":null}}
   }}
 ],
 "resolve":{"axis":{"x":"independent","y":"independent"}}
},
{"width":566,"height":133,"data":{"name":"ryx_y"},
 "title":{"text":"RYX y=0","anchor":"start","frame":"group","dx":27,"offset":-68,"baseline":"alphabetic","fontSize":22.5,"fontWeight":"normal","color":"#333"},
 "layer":[
  {"mark":{"type":"point","size":75,"strokeWidth":1.4,"opacity":1},
   "encoding":{
    "x":{"field":"km","type":"quantitative","scale":{"domain":[-40,40],"nice":false,"zero":false},"axis":{"orient":"bottom","values":[-40,-30,-20,-10,0,10,20,30,40],"labelExpr":"''+datum.value","title":"x(km)"}},
    "y":{"field":"value","type":"quantitative","scale":{"type":"log","domain":[10,1000],"nice":false},"axis":{"orient":"left","values":[10,20,30,40,50,60,70,80,90,100,200,300,400,500,600,700,800,900,1000],"labelExpr":"datum.value==1000?'10³':datum.value==100?'10²':datum.value==10?'10¹':''","title":null}},
    "shape":{"field":"method","type":"nominal","scale":{"domain":["max3d DDC","HL","Mackie","mt3dinv","winglink","wsinv3dmt"],"range":["circle","M-1,0L1,0M0,-1L0,1M-0.7,-0.7L0.7,0.7M-0.7,0.7L0.7,-0.7","M-1,0L1,0M0,-1L0,1","triangle-up","triangle-right","M-1,0L1,0M0,-1L0,1"]},"legend":null},
    "fill":{"field":"method","type":"nominal","scale":{"domain":["max3d DDC","HL","Mackie","mt3dinv","winglink","wsinv3dmt"],"range":["#111111","transparent","transparent","transparent","transparent","transparent"]},"legend":null},
    "stroke":{"field":"method","type":"nominal","scale":{"domain":["max3d DDC","HL","Mackie","mt3dinv","winglink","wsinv3dmt"],"range":["#111111","#3fc3e0","#c860b8","#3355aa","#4cb83a","#ff2020"]},"legend":null}
   }},
  {"mark":{"type":"point","opacity":0},
   "encoding":{
    "x":{"field":"km","type":"quantitative","scale":{"domain":[-40,40],"nice":false,"zero":false},"axis":{"orient":"top","values":[-40,-30,-20,-10,0,10,20,30,40],"labels":false,"title":null}},
    "y":{"field":"value","type":"quantitative","scale":{"type":"log","domain":[10,1000],"nice":false},"axis":{"orient":"right","values":[10,20,30,40,50,60,70,80,90,100,200,300,400,500,600,700,800,900,1000],"labels":false,"title":null}}
   }}
 ],
 "resolve":{"axis":{"x":"independent","y":"independent"}}
},
{"width":566,"height":133,"data":{"name":"pxy_y"},
 "title":{"text":"Phase XY y=0","anchor":"start","frame":"group","dx":28,"offset":-60,"baseline":"alphabetic","fontSize":22.5,"fontWeight":"normal","color":"#333"},
 "layer":[
  {"mark":{"type":"point","size":75,"strokeWidth":1.4,"opacity":1},
   "encoding":{
    "x":{"field":"km","type":"quantitative","scale":{"domain":[-40,40],"nice":false,"zero":false},"axis":{"orient":"bottom","values":[-40,-30,-20,-10,0,10,20,30,40],"labelExpr":"''+datum.value","title":"x(km)"}},
    "y":{"field":"value","type":"quantitative","scale":{"domain":[0,90],"nice":false,"zero":false},"axis":{"orient":"left","values":[0,20,40,60,80],"labelExpr":"''+datum.value","title":["Phase","(Degrees)"]}},
    "shape":{"field":"method","type":"nominal","scale":{"domain":["max3d DDC","HL","Mackie","mt3dinv","winglink","wsinv3dmt"],"range":["circle","M-1,0L1,0M0,-1L0,1M-0.7,-0.7L0.7,0.7M-0.7,0.7L0.7,-0.7","M-1,0L1,0M0,-1L0,1","triangle-up","triangle-right","M-1,0L1,0M0,-1L0,1"]},"legend":null},
    "fill":{"field":"method","type":"nominal","scale":{"domain":["max3d DDC","HL","Mackie","mt3dinv","winglink","wsinv3dmt"],"range":["#111111","transparent","transparent","transparent","transparent","transparent"]},"legend":null},
    "stroke":{"field":"method","type":"nominal","scale":{"domain":["max3d DDC","HL","Mackie","mt3dinv","winglink","wsinv3dmt"],"range":["#111111","#3fc3e0","#c860b8","#3355aa","#4cb83a","#ff2020"]},"legend":null}
   }},
  {"mark":{"type":"point","opacity":0},
   "encoding":{
    "x":{"field":"km","type":"quantitative","scale":{"domain":[-40,40],"nice":false,"zero":false},"axis":{"orient":"top","values":[-40,-30,-20,-10,0,10,20,30,40],"labels":false,"title":null}},
    "y":{"field":"value","type":"quantitative","scale":{"domain":[0,90],"nice":false,"zero":false},"axis":{"orient":"right","values":[0,20,40,60,80],"labels":false,"title":null}}
   }}
 ],
 "resolve":{"axis":{"x":"independent","y":"independent"}}
},
{"width":566,"height":133,"data":{"name":"pyx_y"},
 "title":{"text":"Phase YX y=0","anchor":"start","frame":"group","dx":29,"offset":-60,"baseline":"alphabetic","fontSize":22.5,"fontWeight":"normal","color":"#333"},
 "layer":[
  {"mark":{"type":"point","size":75,"strokeWidth":1.4,"opacity":1},
   "encoding":{
    "x":{"field":"km","type":"quantitative","scale":{"domain":[-40,40],"nice":false,"zero":false},"axis":{"orient":"bottom","values":[-40,-30,-20,-10,0,10,20,30,40],"labelExpr":"''+datum.value","title":"x(km)"}},
    "y":{"field":"value","type":"quantitative","scale":{"domain":[-180,-90],"nice":false,"zero":false},"axis":{"orient":"left","values":[-180,-160,-140,-120,-100],"labelExpr":"''+datum.value","title":null}},
    "shape":{"field":"method","type":"nominal","scale":{"domain":["max3d DDC","HL","Mackie","mt3dinv","winglink","wsinv3dmt"],"range":["circle","M-1,0L1,0M0,-1L0,1M-0.7,-0.7L0.7,0.7M-0.7,0.7L0.7,-0.7","M-1,0L1,0M0,-1L0,1","triangle-up","triangle-right","M-1,0L1,0M0,-1L0,1"]},"legend":null},
    "fill":{"field":"method","type":"nominal","scale":{"domain":["max3d DDC","HL","Mackie","mt3dinv","winglink","wsinv3dmt"],"range":["#111111","transparent","transparent","transparent","transparent","transparent"]},"legend":null},
    "stroke":{"field":"method","type":"nominal","scale":{"domain":["max3d DDC","HL","Mackie","mt3dinv","winglink","wsinv3dmt"],"range":["#111111","#3fc3e0","#c860b8","#3355aa","#4cb83a","#ff2020"]},"legend":null}
   }},
  {"mark":{"type":"point","opacity":0},
   "encoding":{
    "x":{"field":"km","type":"quantitative","scale":{"domain":[-40,40],"nice":false,"zero":false},"axis":{"orient":"top","values":[-40,-30,-20,-10,0,10,20,30,40],"labels":false,"title":null}},
    "y":{"field":"value","type":"quantitative","scale":{"domain":[-180,-90],"nice":false,"zero":false},"axis":{"orient":"right","values":[-180,-160,-140,-120,-100],"labels":false,"title":null}}
   }}
 ],
 "resolve":{"axis":{"x":"independent","y":"independent"}}
},
{"width":566,"height":133,"data":{"name":"rxy_x"},
 "title":{"text":"RXY x=0","anchor":"start","frame":"group","dx":29,"offset":-68,"baseline":"alphabetic","fontSize":22.5,"fontWeight":"normal","color":"#333"},
 "layer":[
  {"mark":{"type":"point","size":75,"strokeWidth":1.4,"opacity":1},
   "encoding":{
    "x":{"field":"km","type":"quantitative","scale":{"domain":[-40,40],"nice":false,"zero":false},"axis":{"orient":"bottom","values":[-40,-30,-20,-10,0,10,20,30,40],"labelExpr":"''+datum.value","title":"y(km)"}},
    "y":{"field":"value","type":"quantitative","scale":{"type":"log","domain":[10,1000],"nice":false},"axis":{"orient":"left","values":[10,20,30,40,50,60,70,80,90,100,200,300,400,500,600,700,800,900,1000],"labelExpr":"datum.value==1000?'10³':datum.value==100?'10²':datum.value==10?'10¹':''","title":["App. Resis","[Log(Ohm.m)]"]}},
    "shape":{"field":"method","type":"nominal","scale":{"domain":["max3d DDC","HL","Mackie","mt3dinv","winglink","wsinv3dmt"],"range":["circle","M-1,0L1,0M0,-1L0,1M-0.7,-0.7L0.7,0.7M-0.7,0.7L0.7,-0.7","M-1,0L1,0M0,-1L0,1","triangle-up","triangle-right","M-1,0L1,0M0,-1L0,1"]},"legend":null},
    "fill":{"field":"method","type":"nominal","scale":{"domain":["max3d DDC","HL","Mackie","mt3dinv","winglink","wsinv3dmt"],"range":["#111111","transparent","transparent","transparent","transparent","transparent"]},"legend":null},
    "stroke":{"field":"method","type":"nominal","scale":{"domain":["max3d DDC","HL","Mackie","mt3dinv","winglink","wsinv3dmt"],"range":["#111111","#3fc3e0","#c860b8","#3355aa","#4cb83a","#ff2020"]},"legend":null}
   }},
  {"mark":{"type":"point","opacity":0},
   "encoding":{
    "x":{"field":"km","type":"quantitative","scale":{"domain":[-40,40],"nice":false,"zero":false},"axis":{"orient":"top","values":[-40,-30,-20,-10,0,10,20,30,40],"labels":false,"title":null}},
    "y":{"field":"value","type":"quantitative","scale":{"type":"log","domain":[10,1000],"nice":false},"axis":{"orient":"right","values":[10,20,30,40,50,60,70,80,90,100,200,300,400,500,600,700,800,900,1000],"labels":false,"title":null}}
   }}
 ],
 "resolve":{"axis":{"x":"independent","y":"independent"}}
},
{"width":566,"height":133,"data":{"name":"ryx_x"},
 "title":{"text":"RYX x=0","anchor":"start","frame":"group","dx":31,"offset":-70,"baseline":"alphabetic","fontSize":22.5,"fontWeight":"normal","color":"#333"},
 "layer":[
  {"mark":{"type":"point","size":75,"strokeWidth":1.4,"opacity":1},
   "encoding":{
    "x":{"field":"km","type":"quantitative","scale":{"domain":[-40,40],"nice":false,"zero":false},"axis":{"orient":"bottom","values":[-40,-30,-20,-10,0,10,20,30,40],"labelExpr":"''+datum.value","title":"y(km)"}},
    "y":{"field":"value","type":"quantitative","scale":{"type":"log","domain":[10,1000],"nice":false},"axis":{"orient":"left","values":[10,20,30,40,50,60,70,80,90,100,200,300,400,500,600,700,800,900,1000],"labelExpr":"datum.value==1000?'10³':datum.value==100?'10²':datum.value==10?'10':''","title":null}},
    "shape":{"field":"method","type":"nominal","scale":{"domain":["max3d DDC","HL","Mackie","mt3dinv","winglink","wsinv3dmt"],"range":["circle","M-1,0L1,0M0,-1L0,1M-0.7,-0.7L0.7,0.7M-0.7,0.7L0.7,-0.7","M-1,0L1,0M0,-1L0,1","triangle-up","triangle-right","M-1,0L1,0M0,-1L0,1"]},"legend":null},
    "fill":{"field":"method","type":"nominal","scale":{"domain":["max3d DDC","HL","Mackie","mt3dinv","winglink","wsinv3dmt"],"range":["#111111","transparent","transparent","transparent","transparent","transparent"]},"legend":null},
    "stroke":{"field":"method","type":"nominal","scale":{"domain":["max3d DDC","HL","Mackie","mt3dinv","winglink","wsinv3dmt"],"range":["#111111","#3fc3e0","#c860b8","#3355aa","#4cb83a","#ff2020"]},"legend":null}
   }},
  {"mark":{"type":"point","opacity":0},
   "encoding":{
    "x":{"field":"km","type":"quantitative","scale":{"domain":[-40,40],"nice":false,"zero":false},"axis":{"orient":"top","values":[-40,-30,-20,-10,0,10,20,30,40],"labels":false,"title":null}},
    "y":{"field":"value","type":"quantitative","scale":{"type":"log","domain":[10,1000],"nice":false},"axis":{"orient":"right","values":[10,20,30,40,50,60,70,80,90,100,200,300,400,500,600,700,800,900,1000],"labels":false,"title":null}}
   }}
 ],
 "resolve":{"axis":{"x":"independent","y":"independent"}}
},
{"width":566,"height":133,"data":{"name":"pxy_x"},
 "title":{"text":"Phase XY x=0m","anchor":"start","frame":"group","dx":28,"offset":-56,"baseline":"alphabetic","fontSize":22.5,"fontWeight":"normal","color":"#333"},
 "layer":[
  {"mark":{"type":"point","size":75,"strokeWidth":1.4,"opacity":1},
   "encoding":{
    "x":{"field":"km","type":"quantitative","scale":{"domain":[-40,40],"nice":false,"zero":false},"axis":{"orient":"bottom","values":[-40,-30,-20,-10,0,10,20,30,40],"labelExpr":"''+datum.value","title":"y(km)","labelPadding":10,"titlePadding":1}},
    "y":{"field":"value","type":"quantitative","scale":{"domain":[0,90],"nice":false,"zero":false},"axis":{"orient":"left","values":[0,20,40,60,80],"labelExpr":"''+datum.value","title":["Phase","(Degrees)"]}},
    "shape":{"field":"method","type":"nominal","scale":{"domain":["max3d DDC","HL","Mackie","mt3dinv","winglink","wsinv3dmt"],"range":["circle","M-1,0L1,0M0,-1L0,1M-0.7,-0.7L0.7,0.7M-0.7,0.7L0.7,-0.7","M-1,0L1,0M0,-1L0,1","triangle-up","triangle-right","M-1,0L1,0M0,-1L0,1"]},"legend":null},
    "fill":{"field":"method","type":"nominal","scale":{"domain":["max3d DDC","HL","Mackie","mt3dinv","winglink","wsinv3dmt"],"range":["#111111","transparent","transparent","transparent","transparent","transparent"]},"legend":null},
    "stroke":{"field":"method","type":"nominal","scale":{"domain":["max3d DDC","HL","Mackie","mt3dinv","winglink","wsinv3dmt"],"range":["#111111","#3fc3e0","#c860b8","#3355aa","#4cb83a","#ff2020"]},"legend":null}
   }},
  {"mark":{"type":"point","opacity":0},
   "encoding":{
    "x":{"field":"km","type":"quantitative","scale":{"domain":[-40,40],"nice":false,"zero":false},"axis":{"orient":"top","values":[-40,-30,-20,-10,0,10,20,30,40],"labels":false,"title":null}},
    "y":{"field":"value","type":"quantitative","scale":{"domain":[0,90],"nice":false,"zero":false},"axis":{"orient":"right","values":[0,20,40,60,80],"labels":false,"title":null}}
   }}
 ],
 "resolve":{"axis":{"x":"independent","y":"independent"}}
},
{"width":566,"height":133,"data":{"name":"pyx_x"},
 "title":{"text":"Phase YX x=0","anchor":"start","frame":"group","dx":37,"offset":-56,"baseline":"alphabetic","fontSize":22.5,"fontWeight":"normal","color":"#333"},
 "layer":[
  {"mark":{"type":"point","size":75,"strokeWidth":1.4,"opacity":1},
   "encoding":{
    "x":{"field":"km","type":"quantitative","scale":{"domain":[-40,40],"nice":false,"zero":false},"axis":{"orient":"bottom","values":[-40,-30,-20,-10,0,10,20,30,40],"labelExpr":"''+datum.value","title":"y(km)","labelPadding":10,"titlePadding":1}},
    "y":{"field":"value","type":"quantitative","scale":{"domain":[-180,-90],"nice":false,"zero":false},"axis":{"orient":"left","values":[-180,-160,-140,-120,-100],"labelExpr":"''+datum.value","title":null}},
    "shape":{"field":"method","type":"nominal","scale":{"domain":["max3d DDC","HL","Mackie","mt3dinv","winglink","wsinv3dmt"],"range":["circle","M-1,0L1,0M0,-1L0,1M-0.7,-0.7L0.7,0.7M-0.7,0.7L0.7,-0.7","M-1,0L1,0M0,-1L0,1","triangle-up","triangle-right","M-1,0L1,0M0,-1L0,1"]},"legend":null},
    "fill":{"field":"method","type":"nominal","scale":{"domain":["max3d DDC","HL","Mackie","mt3dinv","winglink","wsinv3dmt"],"range":["#111111","transparent","transparent","transparent","transparent","transparent"]},"legend":null},
    "stroke":{"field":"method","type":"nominal","scale":{"domain":["max3d DDC","HL","Mackie","mt3dinv","winglink","wsinv3dmt"],"range":["#111111","#3fc3e0","#c860b8","#3355aa","#4cb83a","#ff2020"]},"legend":null}
   }},
  {"mark":{"type":"point","opacity":0},
   "encoding":{
    "x":{"field":"km","type":"quantitative","scale":{"domain":[-40,40],"nice":false,"zero":false},"axis":{"orient":"top","values":[-40,-30,-20,-10,0,10,20,30,40],"labels":false,"title":null}},
    "y":{"field":"value","type":"quantitative","scale":{"domain":[-180,-90],"nice":false,"zero":false},"axis":{"orient":"right","values":[-180,-160,-140,-120,-100],"labels":false,"title":null}}
   }}
 ],
 "resolve":{"axis":{"x":"independent","y":"independent"}}
}
]
}
